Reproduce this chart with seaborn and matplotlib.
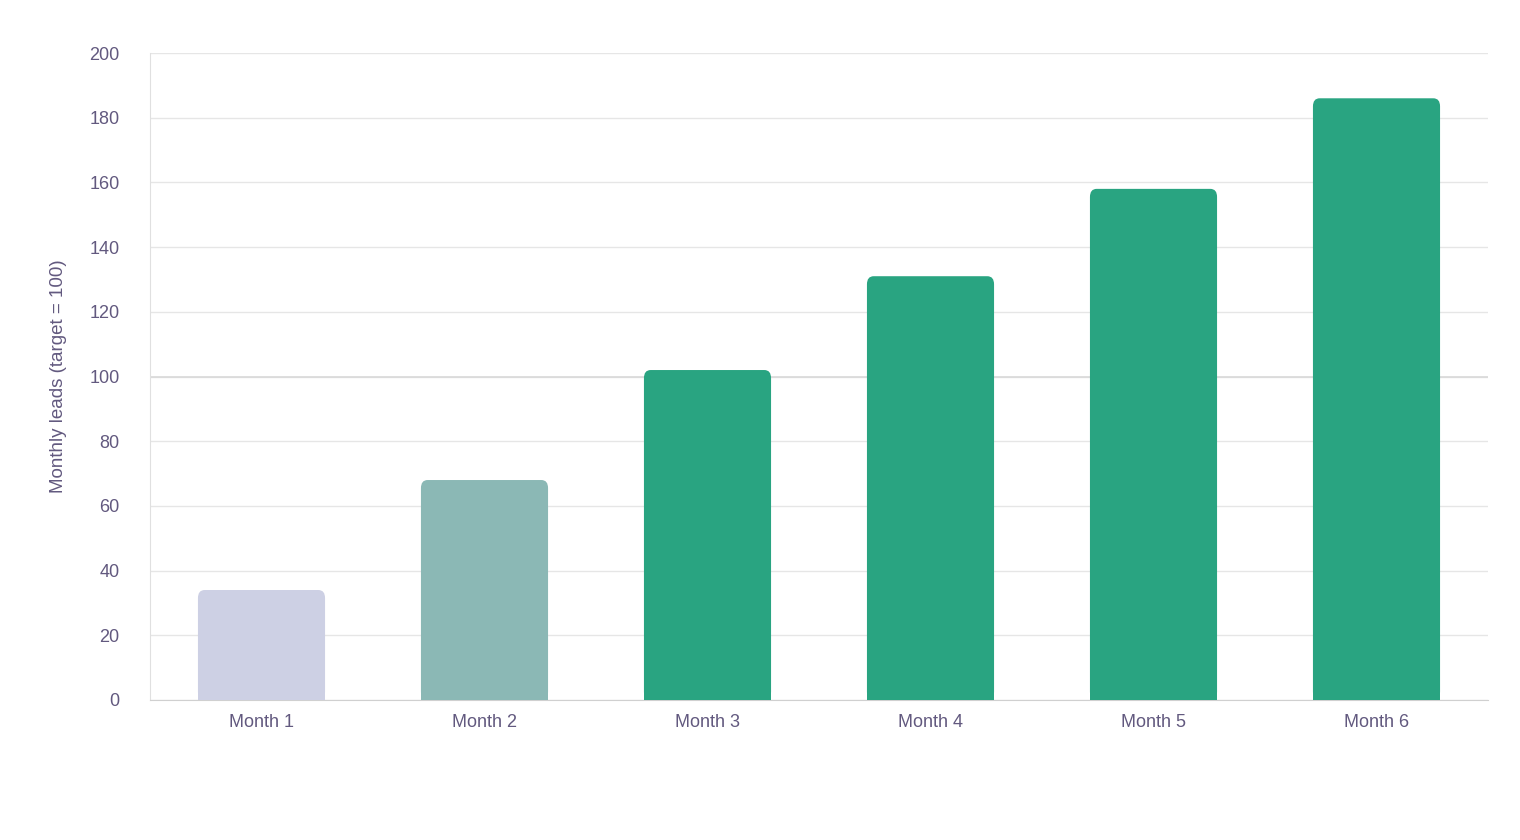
import matplotlib
matplotlib.use("Agg")
import matplotlib.pyplot as plt
from matplotlib.patches import FancyBboxPatch
import seaborn as sns
import pandas as pd

months = ["Month 1", "Month 2", "Month 3", "Month 4", "Month 5", "Month 6"]
leads = [34, 68, 102, 131, 158, 186]
colors = ["#c9cde8", "#84bfbc", "#14b88a", "#14b88a", "#14b88a", "#14b88a"]

sns.set_style("white")
plt.rcParams["font.family"] = ["Liberation Sans", "DejaVu Sans"]
text_color = "#62597f"

df = pd.DataFrame({"month": months, "leads": leads})
fig = plt.figure(figsize=(15.2, 8.4), dpi=100)
ax = fig.add_axes([150 / 1520, 140 / 840, 1338 / 1520, 647 / 840])
sns.barplot(data=df, x="month", y="leads", hue="month", palette=colors,
            legend=False, width=0.57, ax=ax, zorder=3)

# swap bars for rounded-top versions
for p in list(ax.patches):
    x, w, h = p.get_x(), p.get_width(), p.get_height()
    c = p.get_facecolor()
    p.set_visible(False)
    r = 2.5
    ax.add_patch(FancyBboxPatch((x, 0), w, h, boxstyle="round,pad=0,rounding_size=0.03",
                                mutation_aspect=r / 0.03, fc=c, ec="none", zorder=3))
    ax.add_patch(plt.Rectangle((x, 0), w, min(h, 10), fc=c, ec="none", zorder=3))

ax.set_ylim(0, 200)
ax.set_xlim(-0.5, 5.5)
ax.set_yticks(range(0, 201, 20))
ax.grid(axis="y", color="#e6e6e6", lw=1, zorder=0)
ax.axhline(100, color="#d9d9d9", lw=1.2, zorder=1)
for s in ["top", "right"]:
    ax.spines[s].set_visible(False)
ax.spines["left"].set_color("#e0e0e0")
ax.spines["bottom"].set_color("#d0d0d0")
ax.tick_params(axis="both", colors=text_color, labelsize=13, length=0, pad=10)
ax.tick_params(axis="y", pad=22)
ax.set_xlabel("")
ax.set_ylabel("Monthly leads (target = 100)", color=text_color, fontsize=13.5, labelpad=16)

fig.savefig("out.png", dpi=100)
